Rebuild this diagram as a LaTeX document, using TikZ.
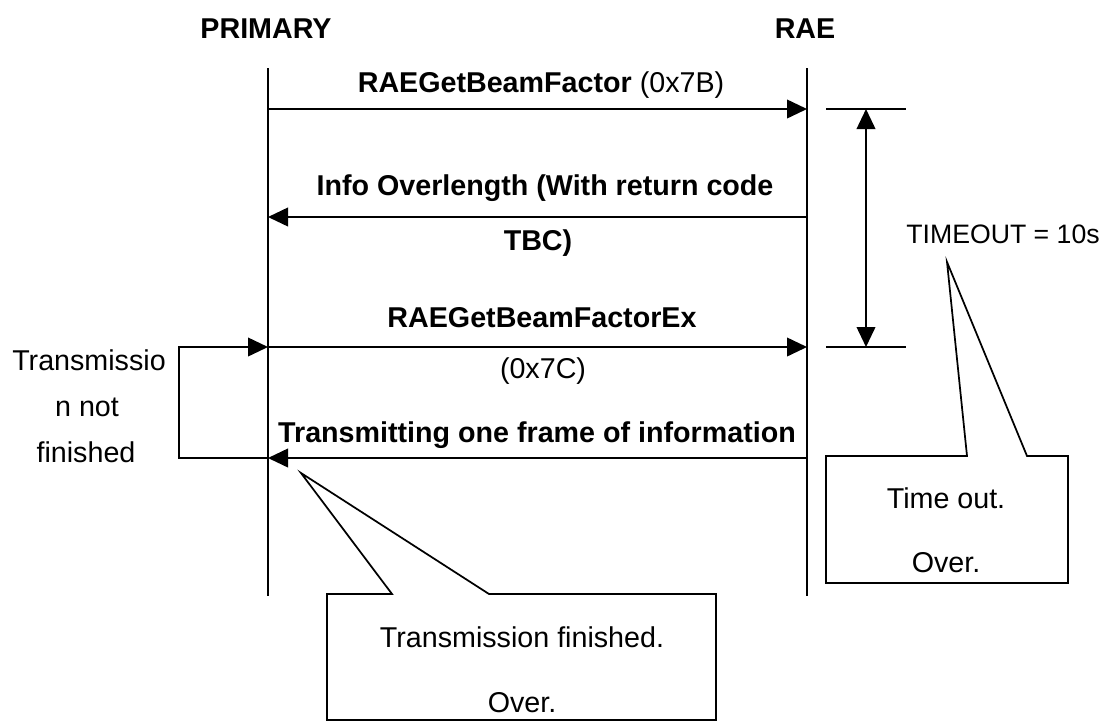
\documentclass[tikz,border=0pt]{standalone}
\usepackage{fontspec}
\setmainfont{Liberation Sans}
\usetikzlibrary{arrows.meta}
\begin{document}
\begin{tikzpicture}[x=0.75pt,y=-0.75pt,
  txt/.style={font=\fontsize{21.5}{26}\selectfont, inner sep=0pt, text height=15.5pt, text depth=0pt},
  stxt/.style={txt, font=\fontsize{20}{24}\selectfont},
  btxt/.style={txt, font=\fontsize{21.5}{26}\selectfont\bfseries},
  lane/.style={line width=1.3pt},
  msg/.style={line width=1.3pt, -{Triangle[length=15pt,width=14pt]}},
  dbl/.style={line width=1.3pt, {Triangle[length=15pt,width=14pt]}-{Triangle[length=15pt,width=14pt]}},
  callout/.style={line width=1.3pt, draw=black, fill=white, line join=miter}]
\useasboundingbox (0,0) rectangle (1105,722);

% headers
\node[btxt] (hp) at (266,28) {PRIMARY};
\node[btxt] (hr) at (805,28) {RAE};

% lifelines
\coordinate (Ltop) at (268,68);
\coordinate (Lbot) at (268,596);
\coordinate (Rtop) at (807,68);
\coordinate (Rbot) at (807,596);
\draw[lane] (Ltop) -- (Lbot);
\draw[lane] (Rtop) -- (Rbot);

% message points
\coordinate (L1) at (268,109);  \coordinate (R1) at (807,109);
\coordinate (L2) at (268,217);  \coordinate (R2) at (807,217);
\coordinate (L3) at (268,347);  \coordinate (R3) at (807,347);
\coordinate (L4) at (268,458);  \coordinate (R4) at (807,458);

\draw[msg] (L1) -- (R1);
\draw[msg] (R2) -- (L2);
\draw[msg] (L3) -- (R3);
\draw[msg] (R4) -- (L4);

% message labels
\node[txt] (m1) at (541,82) {\textbf{RAEGetBeamFactor} (0x7B)};
\node[btxt] (m2a) at (545,185) {Info Overlength (With return code};
\node[btxt] (m2b) at (538,240) {TBC)};
\node[btxt] (m3a) at (542,317) {RAEGetBeamFactorEx};
\node[txt] (m3b) at (543,368) {(0x7C)};
\node[btxt] (m4) at (537,432) {Transmitting one frame of information};

% loop back
\coordinate (lb1) at (179,458);
\coordinate (lb2) at (179,347);
\draw[msg] (L4) -- (lb1) -- (lb2) -- (L3);
\node[txt] (t1) at (89,360) {Transmissio};
\node[txt] (t2) at (87,406) {n not};
\node[txt] (t3) at (86,452) {finished};

% timeout span
\coordinate (k1a) at (826,109); \coordinate (k1b) at (906,109);
\coordinate (k2a) at (826,347); \coordinate (k2b) at (906,347);
\draw[lane] (k1a) -- (k1b);
\draw[lane] (k2a) -- (k2b);
\coordinate (d1) at (866,109); \coordinate (d2) at (866,347);
\draw[dbl] (d1) -- (d2);
\node[stxt] (to) at (1003,233) {TIMEOUT = 10s};

% timeout callout
\draw[callout] (826,456) -- (967,456) -- (947,262) -- (1027,456) -- (1068,456)
  -- (1068,583) -- (826,583) -- cycle;
\node[txt] (c1a) at (946,498) {Time out.};
\node[txt] (c1b) at (946,562) {Over.};

% finished callout
\draw[callout] (327,594) -- (392,594) -- (301,473) -- (489,594) -- (716,594)
  -- (716,720) -- (327,720) -- cycle;
\node[txt] (c2a) at (522,637) {Transmission finished.};
\node[txt] (c2b) at (522,702) {Over.};
\end{tikzpicture}
\end{document}
